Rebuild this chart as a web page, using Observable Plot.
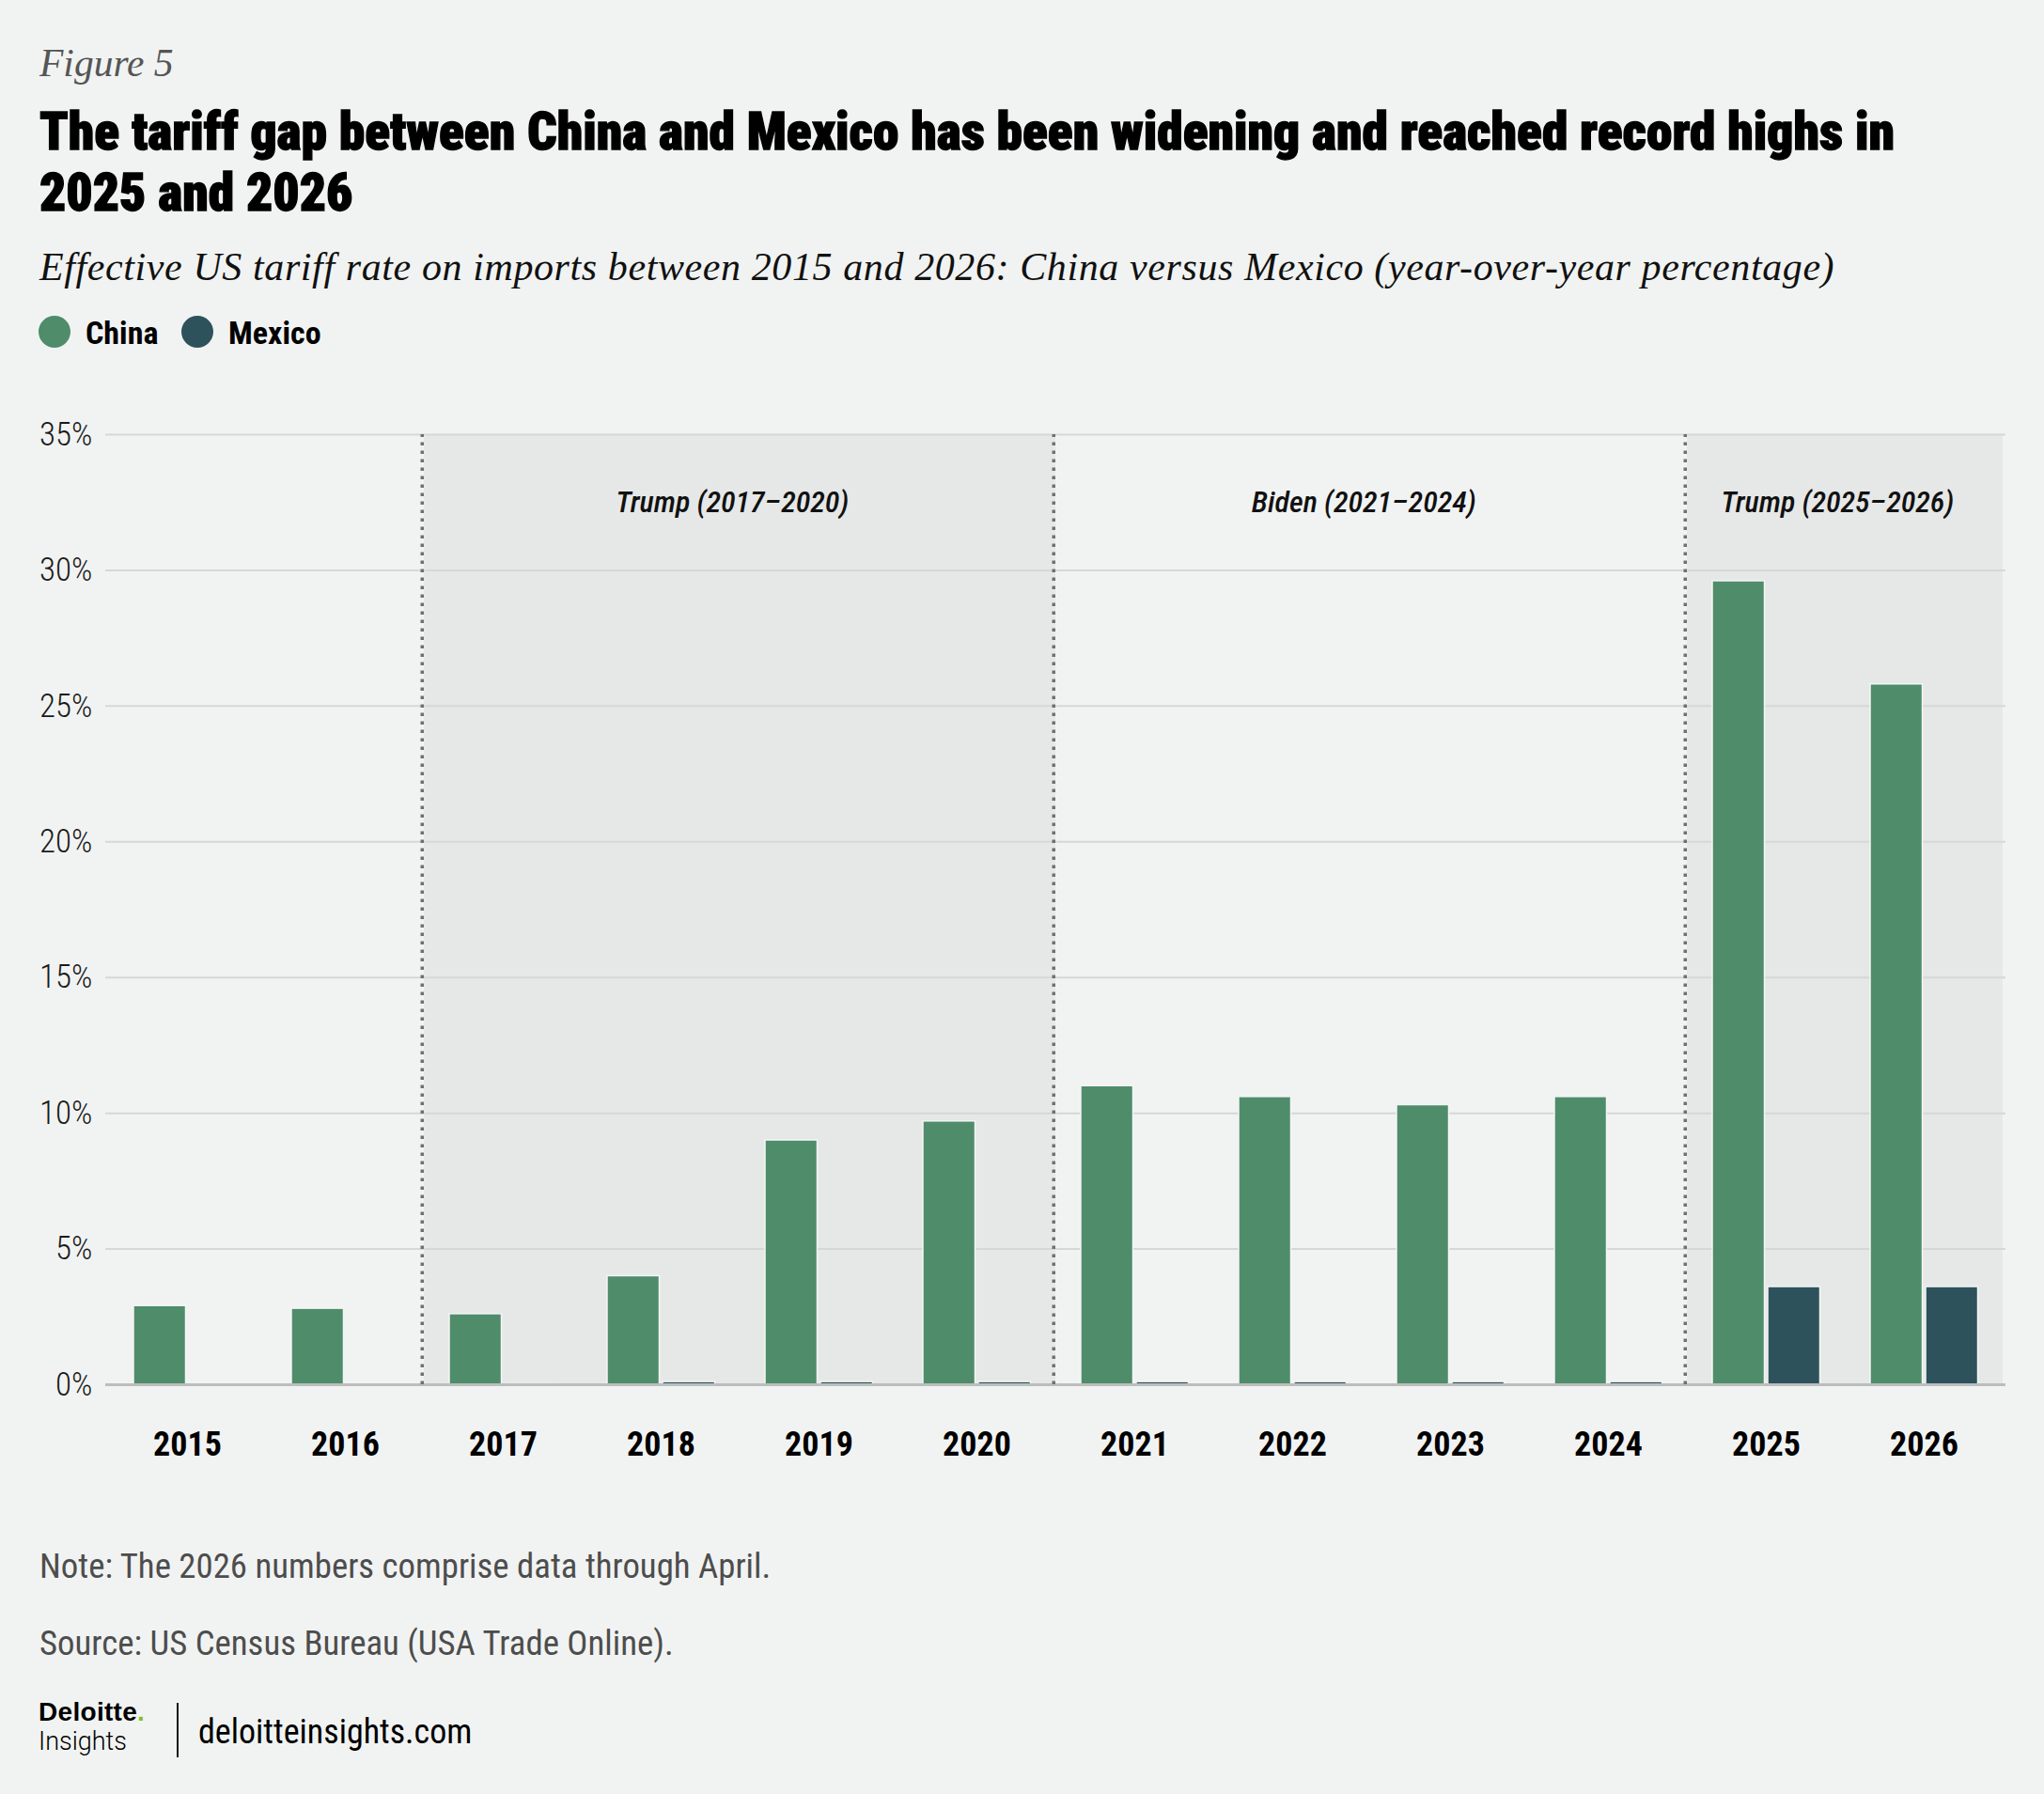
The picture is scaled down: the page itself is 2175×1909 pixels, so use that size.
<!DOCTYPE html>
<html>
<head>
<meta charset="utf-8">
<script src="https://cdn.jsdelivr.net/npm/d3@7"></script>
<script src="https://cdn.jsdelivr.net/npm/@observablehq/plot@0.6"></script>
<style>
  html, body { margin: 0; padding: 0; background: #f1f3f2; }
  body { width: 2175px; height: 1909px; position: relative; overflow: hidden; }
  .t { position: absolute; white-space: nowrap; line-height: 1; }
  .cond { font-family: "Roboto Condensed", "Liberation Sans Narrow", "DejaVu Sans Condensed", sans-serif; }
  .serif { font-family: "Liberation Serif", "DejaVu Serif", serif; font-style: italic; }
  #chart { position: absolute; left: 0; top: 420px; }
  .dot { position: absolute; border-radius: 50%; }
</style>
</head>
<body>
<div id="chart"></div>
<script>
// ---- data ----
const years = ["2015","2016","2017","2018","2019","2020","2021","2022","2023","2024","2025","2026"];
const chinaValues = [2.9, 2.8, 2.6, 4.0, 9.0, 9.7, 11.0, 10.6, 10.3, 10.6, 29.6, 25.8];
const mexicoValues = [0, 0, 0.02, 0.1, 0.1, 0.1, 0.1, 0.1, 0.1, 0.1, 3.6, 3.6];
const seriesNames = ["China", "Mexico"];
const seriesColors = ["#4f8c6a", "#2d525c"];
const shadedYears = ["2017","2018","2019","2020","2025","2026"];
const dividerYears = ["2017","2021","2025"];
const periodLabels = ["Trump (2017–2020)", "Biden (2021–2024)", "Trump (2025–2026)"];
const periodBoundaryYears = ["2019", "2023", "2026"];
const yTicks = [0, 5, 10, 15, 20, 25, 30, 35];
const yMax = 35;
const periodLabelY = 32.5;

const titleText = "The tariff gap between China and Mexico has been widening and reached record highs in";
const titleText2 = "2025 and 2026";
const subtitleText = "Effective US tariff rate on imports between 2015 and 2026: China versus Mexico (year-over-year percentage)";
const noteText = "Note: The 2026 numbers comprise data through April.";
const sourceText = "Source: US Census Bureau (USA Trade Online).";

// ---- tables built from arrays ----
const china = years.map((y, i) => ({year: y, value: chinaValues[i]}));
const mexico = years.map((y, i) => ({year: y, value: mexicoValues[i]})).filter(d => d.value > 0);
const periods = periodLabels.map((l, i) => ({label: l, year: periodBoundaryYears[i]}));

// ---- layout ----
const W = 2175, mL = 112, mR = 41, mT = 42, mB = 110;
const H = 1011 + mT + mB;
const step = (W - mL - mR) / years.length;
const font = '"Roboto Condensed", "Liberation Sans Narrow", "DejaVu Sans Condensed", sans-serif';

const chart = Plot.plot({
  width: W,
  height: H,
  marginLeft: mL,
  marginRight: mR,
  marginTop: mT,
  marginBottom: mB,
  style: {fontFamily: font, background: "transparent", color: "#111", overflow: "visible"},
  x: {domain: years, padding: 0, label: null},
  y: {domain: [0, yMax], label: null},
  marks: [
    Plot.barY(shadedYears, {x: d => d, y1: 0, y2: yMax, fill: "#e6e8e7", inset: 0}),
    Plot.ruleY(yTicks.filter(d => d > 0), {stroke: "#d5d8d6", strokeWidth: 2}),
    Plot.barY(china, {x: "year", y: "value", fill: seriesColors[0], stroke: "#f3f5f4", strokeWidth: 1.5, insetLeft: 27, insetRight: 85.5}),
    Plot.barY(mexico, {x: "year", y: "value", fill: seriesColors[1], stroke: "#f3f5f4", strokeWidth: 1.5, insetLeft: 86, insetRight: 26.5}),
    Plot.ruleY([0], {stroke: "#bcbebd", strokeWidth: 3}),
    Plot.ruleX(dividerYears, {x: d => d, y1: 0, y2: yMax, dx: -step / 2 - 2, stroke: "#707070", strokeWidth: 3.5, strokeDasharray: "3.5,5.5"}),
    Plot.text(periods, {x: "year", y: periodLabelY, text: "label", dx: -step / 2 - 8, fontSize: 32, fontStyle: "italic", fontWeight: 500, fill: "#111", textAnchor: "middle"}),
    Plot.axisY({ticks: yTicks, tickFormat: d => d + "%", tickSize: 0, tickPadding: 14, fontSize: 35, fontWeight: 300, fill: "#1a1a1a"}),
    Plot.axisX({tickSize: 0, tickPadding: 50, fontSize: 36, fontWeight: 700, fill: "#000"})
  ]
});
document.getElementById("chart").appendChild(chart);

// ---- header / footer text ----
function addText(txt, x, baseline, size, cls, extra) {
  const d = document.createElement("div");
  d.className = "t " + cls;
  d.textContent = txt;
  d.style.left = x + "px";
  d.style.top = (baseline - 0.845 * size) + "px";
  d.style.fontSize = size + "px";
  Object.assign(d.style, extra || {});
  document.body.appendChild(d);
  return d;
}
addText("Figure 5", 42, 82, 41.5, "serif", {color: "#555"});
addText(titleText, 42, 160, 55.5, "cond", {fontWeight: 900, color: "#000", letterSpacing: "0px", webkitTextStroke: "1.3px #000"});
addText(titleText2, 42, 225, 55.5, "cond", {fontWeight: 900, color: "#000", letterSpacing: "0px", webkitTextStroke: "1.3px #000"});
addText(subtitleText, 42, 298, 42, "serif", {color: "#111", letterSpacing: "0.6px"});

// legend
seriesNames.forEach((name, i) => {
  const cx = [58, 210][i];
  const c = document.createElement("div");
  c.className = "dot";
  c.style.width = "34px"; c.style.height = "34px";
  c.style.left = (cx - 17) + "px"; c.style.top = (353 - 17) + "px";
  c.style.background = seriesColors[i];
  document.body.appendChild(c);
  addText(name, cx + 33, 366, 34, "cond", {fontWeight: 700, color: "#000"});
});

addText(noteText, 42, 1680, 36.8, "cond", {color: "#4d4d4d"});
addText(sourceText, 42, 1762, 36.8, "cond", {color: "#4d4d4d"});

// logo
const dl = addText("Deloitte", 41, 1832, 28, "", {fontFamily: '"Liberation Sans", Arial, sans-serif', fontWeight: 700, color: "#000", letterSpacing: "0.3px"});
const gdot = document.createElement("span");
gdot.textContent = ".";
gdot.style.color = "#86bc25";
dl.appendChild(gdot);
addText("Insights", 41, 1863, 27, "", {fontFamily: 'Roboto, "Liberation Sans", sans-serif', fontWeight: 300, color: "#000"});
const sep = document.createElement("div");
sep.style.cssText = "position:absolute;left:188px;top:1812px;width:2px;height:58px;background:#111;";
document.body.appendChild(sep);
addText("deloitteinsights.com", 211, 1855, 36, "cond", {color: "#000"});
</script>
</body>
</html>
